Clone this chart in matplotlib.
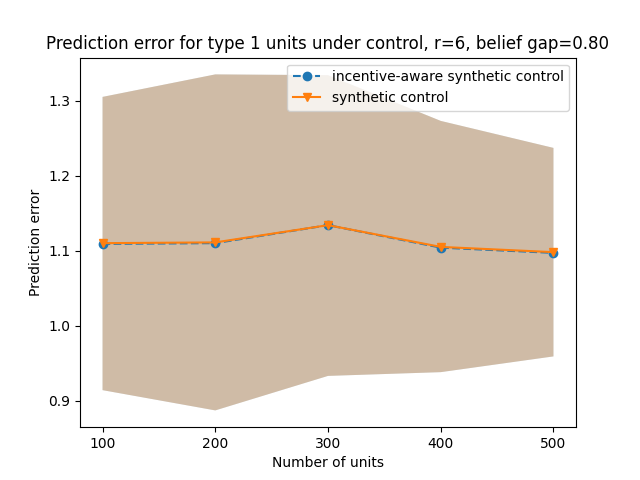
import numpy as np
import matplotlib
matplotlib.use("Agg")
import matplotlib.pyplot as plt

n_units = [100, 200, 300, 400, 500]

# incentive-aware synthetic control
ia_mean = [1.109, 1.110, 1.134, 1.104, 1.097]
ia_lower = [0.914, 0.887, 0.933, 0.938, 0.959]
ia_upper = [1.305, 1.335, 1.334, 1.273, 1.237]

# synthetic control
sc_mean = [1.110, 1.111, 1.134, 1.105, 1.098]
sc_lower = [0.914, 0.887, 0.933, 0.938, 0.959]
sc_upper = [1.305, 1.335, 1.334, 1.273, 1.237]

fig = plt.figure(figsize=(6.4, 4.8))

plt.plot(n_units, ia_mean, "--o", label="incentive-aware synthetic control")
plt.fill_between(n_units, ia_lower, ia_upper, alpha=0.3)
plt.plot(n_units, sc_mean, "-v", label="synthetic control")
plt.fill_between(n_units, sc_lower, sc_upper, alpha=0.3)

plt.xticks(n_units)
plt.title("Prediction error for type 1 units under control, r=6, belief gap=0.80")
plt.xlabel("Number of units")
plt.ylabel("Prediction error")
plt.legend()
plt.savefig("out.png", dpi=100)
